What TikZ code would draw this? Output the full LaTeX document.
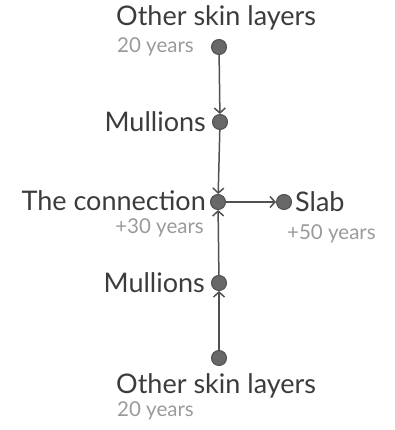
\documentclass[tikz,border=0pt]{standalone}
\usepackage{fontspec}
\setmainfont{Lato}
\usetikzlibrary{arrows.meta,positioning}
\definecolor{dotgray}{HTML}{686868}
\definecolor{linegray}{HTML}{505050}
\definecolor{txtgray}{HTML}{3C3C3C}
\definecolor{yrsgray}{HTML}{9A9A9A}

\begin{document}
\begin{tikzpicture}[x=1pt,y=-1pt,>={Straight Barb[length=5pt,width=11pt]},
  dot/.style={circle,fill=dotgray,draw=linegray,line width=1pt,inner sep=0pt,minimum size=15pt},
  link/.style={->,linegray,line width=1.5pt},
  lbl/.style={text=txtgray,font=\fontsize{27}{29}\selectfont,inner sep=0pt},
  yrs/.style={text=yrsgray,font=\fontsize{20.5}{22}\selectfont,inner sep=0pt}]
\useasboundingbox (0,0) rectangle (395,430);
% dots
\node[dot] (top)  at (219,47)  {};
\node[dot] (mulA) at (220,122) {};
\node[dot] (conn) at (218,202) {};
\node[dot] (slab) at (284,202) {};
\node[dot] (mulB) at (219,283) {};
\node[dot] (bot)  at (219,358) {};
% arrows
\draw[link] (top) -- (mulA);
\draw[link] (mulA) -- (conn);
\draw[link] (bot) -- (mulB);
\draw[link] (mulB) -- (conn);
\draw[link] (conn) -- (slab);
% labels
\node[lbl,anchor=west] (topname) at (116,18) {Other skin layers};
\node[yrs,anchor=west] (topyrs) at (117,47) {20 years};
\node[lbl,left=6pt of mulA] (mulAname) {Mullions};
\node[lbl,left=4pt of conn,yshift=1pt] (connname) {The connection};
\node[yrs,anchor=east] (connyrs) at (204,228) {+30 years};
\node[lbl,right=3pt of slab] (slabname) {Slab};
\node[yrs,anchor=west] (slabyrs) at (287,234) {+50 years};
\node[lbl,left=6pt of mulB] (mulBname) {Mullions};
\node[lbl,anchor=west] (botname) at (116,386) {Other skin layers};
\node[yrs,anchor=west] (botyrs) at (117,411) {20 years};
\end{tikzpicture}
\end{document}
